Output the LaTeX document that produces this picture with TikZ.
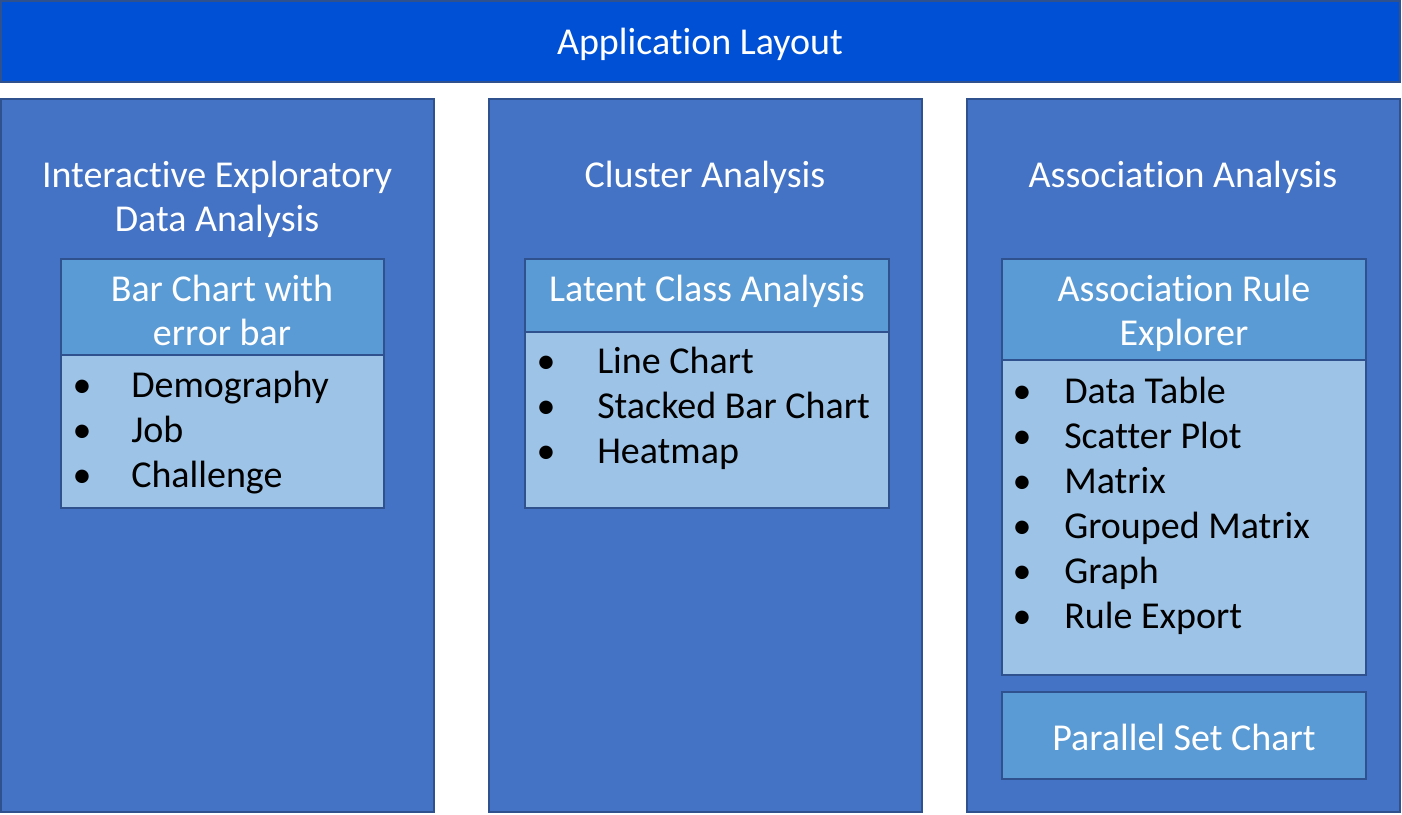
\documentclass[tikz,border=0pt]{standalone}
\usepackage{fontspec}
\setmainfont{Carlito}[Ligatures=NoCommon]
\definecolor{topblue}{HTML}{0050D6}
\definecolor{panelblue}{HTML}{4472C4}
\definecolor{headblue}{HTML}{5B9BD5}
\definecolor{listblue}{HTML}{9DC3E6}
\definecolor{edgeblue}{HTML}{2F528F}
\tikzset{
  box/.style={draw=edgeblue, line width=1.1pt, inner sep=0pt, outer sep=0pt},
  topbar/.style={box, fill=topblue},
  panel/.style={box, fill=panelblue, minimum width=324.75pt, minimum height=534.75pt},
  head/.style={box, fill=headblue},
  listbox/.style={box, fill=listblue},
  wtext/.style={text=white, font=\fontsize{28.5}{33.75}\selectfont, anchor=base, inner sep=0pt},
  item/.style={text=black, font=\fontsize{28.5}{33.75}\selectfont, anchor=base west, inner sep=0pt},
  bul/.style={text=black, font=\fontsize{28.5}{33.75}\selectfont, anchor=base, inner sep=0pt},
}
\begin{document}
\begin{tikzpicture}[x=0.75pt, y=-0.75pt]
\useasboundingbox (0,0) rectangle (1402,814);
% top bar
\node[topbar, minimum width=1049.25pt, minimum height=60.75pt] (top) at (700.5,41.5) {};
\node[wtext] (toptxt) at (700,54) {Application Layout};
% panels
\node[panel] (p1) at (217.5,455.5) {};
\node[panel] (p2) at (705.5,455.5) {};
\node[panel] (p3) at (1183.5,455.5) {};
\node[wtext] (p1t) at (217,187) {Interactive Exploratory};
\node[wtext] (p1u) at (217,231) {Data Analysis};
\node[wtext] (p2t) at (705,187) {Cluster Analysis};
\node[wtext] (p3t) at (1183,187) {Association Analysis};
% panel 1 boxes
\node[head, minimum width=242.25pt, minimum height=72pt] (h1) at (222.5,307) {};
\node[listbox, minimum width=242.25pt, minimum height=114.75pt] (l1) at (222.5,431.5) {};
\node[wtext] (h1t) at (222,301) {Bar Chart with};
\node[wtext] (h1u) at (222,345) {error bar};
\node[bul] (b11) at (82,397) {•};
\node[item] (i11) at (131,397) {Demography};
\node[bul] (b12) at (82,442) {•};
\node[item] (i12) at (131,442) {Job};
\node[bul] (b13) at (82,487) {•};
\node[item] (i13) at (131,487) {Challenge};
% panel 2 boxes
\node[head, minimum width=273pt, minimum height=54.75pt] (h2) at (707,295.5) {};
\node[listbox, minimum width=273pt, minimum height=132pt] (l2) at (707,420) {};
\node[wtext] (h2t) at (707,301) {Latent Class Analysis};
\node[bul] (b21) at (546,373) {•};
\node[item] (i21) at (597,373) {Line Chart};
\node[bul] (b22) at (546,418) {•};
\node[item] (i22) at (597,418) {Stacked Bar Chart};
\node[bul] (b23) at (546,463) {•};
\node[item] (i23) at (597,463) {Heatmap};
% panel 3 boxes
\node[head, minimum width=273pt, minimum height=75.75pt] (h3) at (1184,309.5) {};
\node[listbox, minimum width=273pt, minimum height=236.25pt] (l3) at (1184,517.5) {};
\node[head, minimum width=273pt, minimum height=65.25pt] (h4) at (1184,735.5) {};
\node[wtext] (h3t) at (1184,301) {Association Rule};
\node[wtext] (h3u) at (1184,345) {Explorer};
\node[bul] (b31) at (1022,403) {•};
\node[item] (i31) at (1064,403) {Data Table};
\node[bul] (b32) at (1022,448) {•};
\node[item] (i32) at (1064,448) {Scatter Plot};
\node[bul] (b33) at (1022,493) {•};
\node[item] (i33) at (1064,493) {Matrix};
\node[bul] (b34) at (1022,538) {•};
\node[item] (i34) at (1064,538) {Grouped Matrix};
\node[bul] (b35) at (1022,583) {•};
\node[item] (i35) at (1064,583) {Graph};
\node[bul] (b36) at (1022,628) {•};
\node[item] (i36) at (1064,628) {Rule Export};
\node[wtext] (h4t) at (1184,750) {Parallel Set Chart};
\end{tikzpicture}
\end{document}
